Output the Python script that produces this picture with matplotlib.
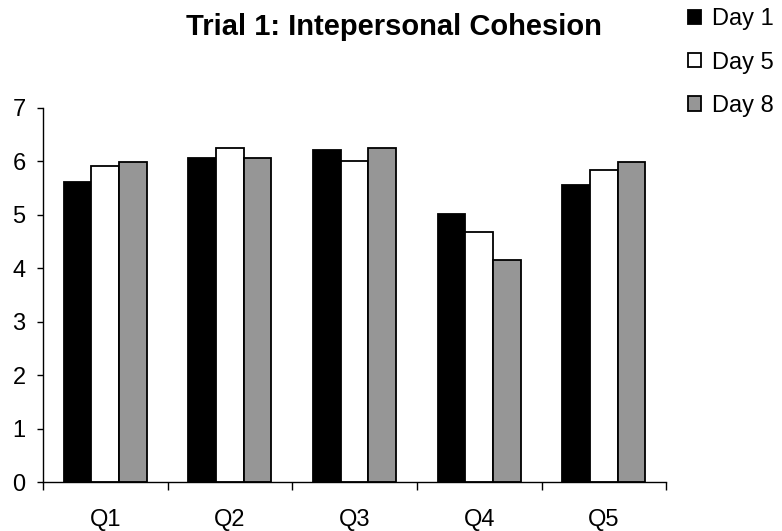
import numpy as np
import matplotlib.pyplot as plt

plt.rcParams['font.family'] = ['Liberation Sans', 'DejaVu Sans']

# data
questions = ['Q1', 'Q2', 'Q3', 'Q4', 'Q5']
day1 = [5.62, 6.07, 6.22, 5.02, 5.55]
day5 = [5.92, 6.25, 6.00, 4.68, 5.84]
day8 = [5.99, 6.06, 6.25, 4.15, 5.99]
series = ['Day 1', 'Day 5', 'Day 8']
colors = ['#000000', '#ffffff', '#969696']

fig = plt.figure(figsize=(7.82, 5.31), dpi=100)
ax = fig.add_axes([0.055, 0.092, 0.797, 0.705])

x = np.arange(len(questions))
w = 0.222
for i, (vals, lab, c) in enumerate(zip([day1, day5, day8], series, colors)):
    ax.bar(x + (i - 1) * w, vals, w, color=c, edgecolor='black', linewidth=1.3, label=lab)

ax.set_xlim(-0.5, len(questions) - 0.5)
ax.set_ylim(0, 7)
ax.set_yticks(range(0, 8))
ax.tick_params(axis='y', labelsize=17, length=4.5, width=1, pad=8)
# category labels sit between the tick marks
ax.set_xticks(np.arange(-0.5, len(questions), 1))
ax.set_xticklabels([])
ax.tick_params(axis='x', length=6, width=1)
ax.set_xticks(x, minor=True)
ax.set_xticklabels(questions, minor=True, fontsize=17)
ax.tick_params(axis='x', which='minor', length=0, pad=19)

for s in ['top', 'right']:
    ax.spines[s].set_visible(False)
ax.spines['left'].set_linewidth(1)
ax.spines['bottom'].set_linewidth(1)

fig.text(0.504, 0.95, 'Trial 1: Intepersonal Cohesion', ha='center', va='center',
         fontsize=21, fontweight='bold')

fig.legend(loc='upper left', bbox_to_anchor=(0.868, 1.002), frameon=False, fontsize=17,
           handlelength=0.55, handleheight=0.55, handletextpad=0.45, labelspacing=0.9,
           borderaxespad=0.0)

fig.savefig('out.png', dpi=100)
